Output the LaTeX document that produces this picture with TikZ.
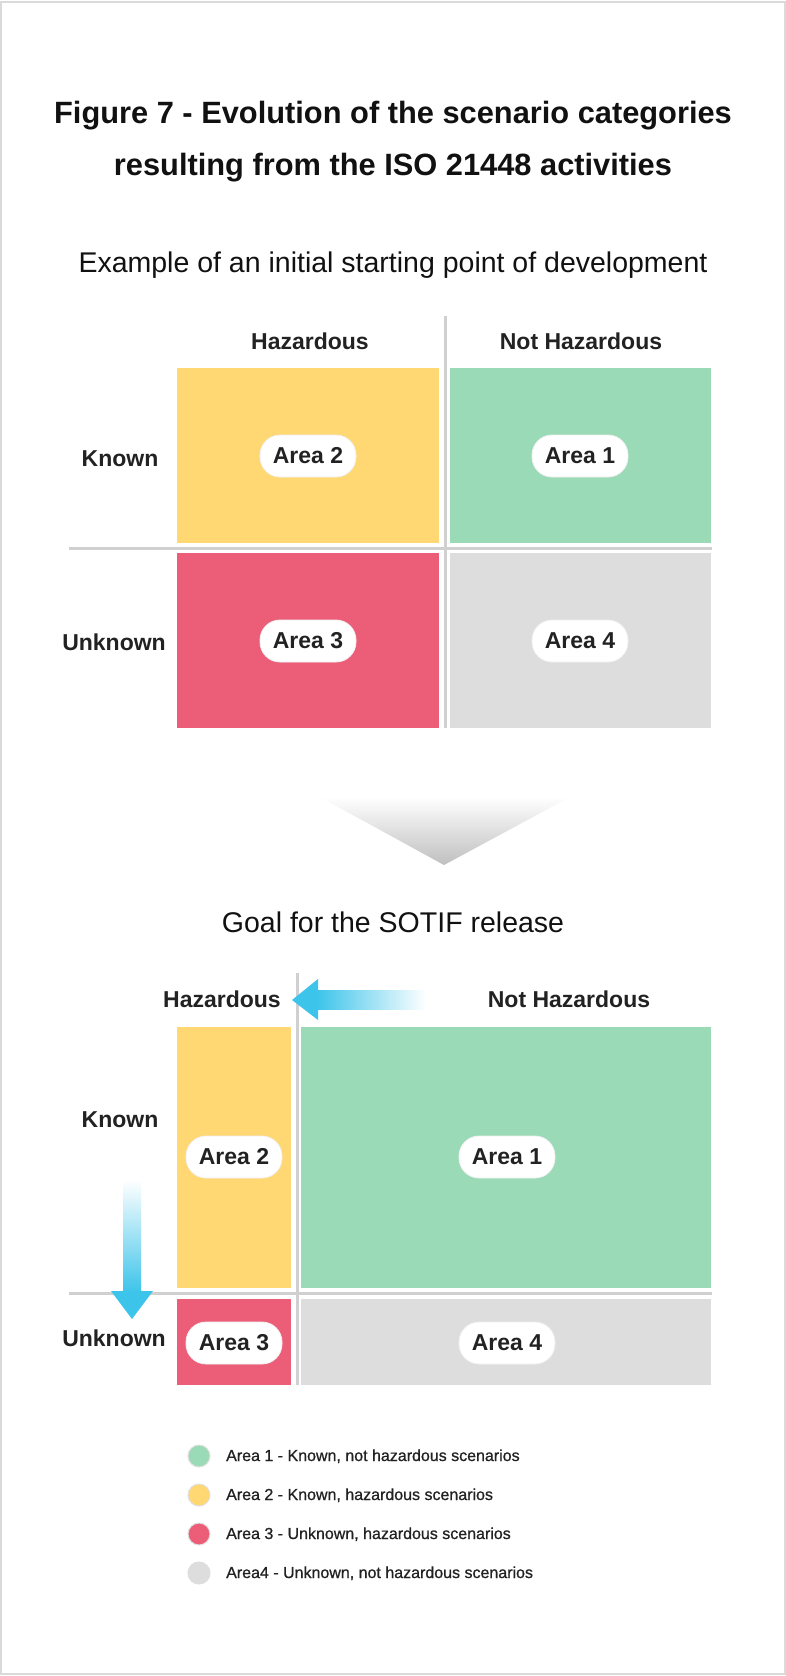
\documentclass[tikz,border=0pt]{standalone}
\usepackage{fontspec}
\setmainfont{Liberation Sans}
\newfontfamily\medfont[FakeBold=0.8]{Liberation Sans}
\definecolor{yel}{HTML}{FFD773}
\definecolor{grn}{HTML}{9ADAB6}
\definecolor{rd}{HTML}{EC5E78}
\definecolor{gry}{HTML}{DDDDDD}
\definecolor{gridc}{HTML}{D0D0D0}
\definecolor{framec}{HTML}{DADADA}
\definecolor{blu}{HTML}{3DC4EA}
\definecolor{txt}{HTML}{111111}
\definecolor{lbl}{HTML}{222222}
\tikzset{
  pill/.style={rectangle, rounded corners=20pt, fill=white, draw=black!6, line width=0.8pt,
    minimum width=96pt, minimum height=42pt, inner sep=0pt, text=lbl,
    font=\fontsize{23}{26}\selectfont\bfseries},
  axlbl/.style={anchor=base, text=lbl, inner sep=0pt, font=\fontsize{23}{26}\selectfont\bfseries},
  ttl/.style={anchor=base, text=txt, inner sep=0pt, font=\fontsize{30.8}{34}\selectfont\bfseries},
  sub/.style={anchor=base, text=txt, inner sep=0pt, font=\fontsize{28.5}{32}\selectfont},
  gridline/.style={draw=gridc, line width=3pt},
  legdot/.style={circle, minimum size=22pt, inner sep=0pt, draw=black!12, line width=1pt},
  legtxt/.style={anchor=base west, text=lbl, inner sep=0pt, font=\medfont\fontsize{16}{19}\selectfont},
}
\begin{document}
\begin{tikzpicture}[x=1pt,y=-1pt]
\useasboundingbox (0,0) rectangle (786,1676);
\fill[white] (0,0) rectangle (786,1676);
\draw[framec, line width=1.5pt] (1,2) rectangle (785,1674);

% titles
\node[ttl] (t1) at (393,123) {Figure 7 - Evolution of the scenario categories};
\node[ttl] (t2) at (393,175) {resulting from the ISO 21448 activities};
\node[sub] (s1) at (393,272) {Example of an initial starting point of development};

% top grid
\fill[yel] (177,368) rectangle (439,543);
\fill[grn] (450,368) rectangle (711,543);
\fill[rd]  (177,553) rectangle (439,728);
\fill[gry] (450,553) rectangle (711,728);
\draw[gridline] (445,316) -- (445,728);
\draw[gridline] (69,548) -- (712,548);
\node[axlbl] (h1) at (310,349) {Hazardous};
\node[axlbl] (nh1) at (581,349) {Not Hazardous};
\node[axlbl] (k1) at (120,466) {Known};
\node[axlbl] (u1) at (114,650) {Unknown};
\node[pill] (a2t) at (308,456) {Area 2};
\node[pill] (a1t) at (580,456) {Area 1};
\node[pill] (a3t) at (308,641) {Area 3};
\node[pill] (a4t) at (580,641) {Area 4};

% chevron
\shade[top color=white, bottom color=black!25] (320,797) -- (570,797) -- (444,865) -- cycle;

\node[sub] (s2) at (393,932) {Goal for the SOTIF release};

% bottom grid
\fill[yel] (177,1027) rectangle (291,1288);
\fill[grn] (301,1027) rectangle (711,1288);
\fill[rd]  (177,1299) rectangle (291,1385);
\fill[gry] (301,1299) rectangle (711,1385);
\draw[gridline] (297,973) -- (297,1385);
\draw[gridline] (69,1293) -- (712,1293);
\node[axlbl] (h2) at (222,1007) {Hazardous};
\node[axlbl] (nh2) at (569,1007) {Not Hazardous};
\node[axlbl] (k2) at (120,1127) {Known};
\node[axlbl] (u2) at (114,1346) {Unknown};
\node[pill] (a2b) at (234,1157) {Area 2};
\node[pill] (a1b) at (507,1157) {Area 1};
\node[pill] (a3b) at (234,1343) {Area 3};
\node[pill] (a4b) at (507,1343) {Area 4};

% blue arrows
\shade[left color=blu, right color=white] (317,990) rectangle (426,1009);
\fill[blu] (292,1000) -- (318,979) -- (318,1020) -- cycle;
\shade[top color=white, bottom color=blu] (123,1180) rectangle (141,1292);
\fill[blu] (111,1291) -- (153,1291) -- (132,1319) -- cycle;

% legend
\node[legdot, fill=grn] (d1) at (199,1456) {};
\node[legdot, fill=yel] (d2) at (199,1495) {};
\node[legdot, fill=rd]  (d3) at (199,1534) {};
\node[legdot, fill=gry, draw=gry] (d4) at (199,1573) {};
\node[legtxt] (l1) at (226,1461) {Area 1 - Known, not hazardous scenarios};
\node[legtxt] (l2) at (226,1500) {Area 2 - Known, hazardous scenarios};
\node[legtxt] (l3) at (226,1539) {Area 3 - Unknown, hazardous scenarios};
\node[legtxt] (l4) at (226,1578) {Area4 - Unknown, not hazardous scenarios};
\end{tikzpicture}
\end{document}
